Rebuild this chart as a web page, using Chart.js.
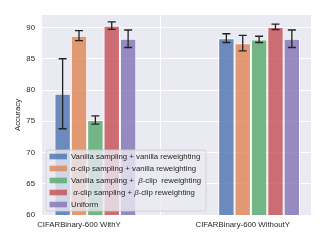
<!DOCTYPE html>
<html>
<head>
<meta charset="utf-8">
<script src="https://cdn.jsdelivr.net/npm/chart.js@4/dist/chart.umd.min.js"></script>
<style>
  html, body { margin: 0; padding: 0; background: #fff; }
  #wrap { width: 327px; height: 245px; }
</style>
</head>
<body>
<div id="wrap"><canvas id="accChart"></canvas></div>
<script>
var groups = ['CIFARBinary-600 WithY', 'CIFARBinary-600 WithoutY'];
var seriesNames = [
  'Vanilla sampling + vanilla reweighting',
  '\u03b1-clip sampling + vanilla reweighting',
  'Vanilla sampling +  \u03b2-clip  reweighting',
  ' \u03b1-clip sampling + \u03b2-clip reweighting',
  'Uniform'
];
var vanillaVanilla = [79.4, 88.3];
var alphaVanilla = [88.7, 87.5];
var vanillaBeta = [75.2, 88.1];
var alphaBeta = [90.3, 90.1];
var uniform = [88.2, 88.2];
var vanillaVanillaErr = [5.6, 0.7];
var alphaVanillaErr = [0.8, 1.25];
var vanillaBetaErr = [0.65, 0.5];
var alphaBetaErr = [0.6, 0.45];
var uniformErr = [1.4, 1.4];
var yTicks = [60, 65, 70, 75, 80, 85, 90];

var colors = ['76,114,176', '221,132,82', '85,168,104', '196,78,82', '129,114,179'];
var values = [vanillaVanilla, alphaVanilla, vanillaBeta, alphaBeta, uniform];
var errors = [vanillaVanillaErr, alphaVanillaErr, vanillaBetaErr, alphaBetaErr, uniformErr];

// bars are drawn with the group shifted right of its tick (tick sits on 2nd bar)
var groupShift = 0.1;
var font = 'Liberation Sans, Arial, sans-serif';

var datasets = values.map(function(vals, k) {
  return {
    label: seriesNames[k],
    data: vals.map(function(v, i) { return { x: i + groupShift, y: v }; }),
    err: errors[k],
    backgroundColor: 'rgba(' + colors[k] + ',0.8)',
    borderColor: '#ffffff',
    borderWidth: 1,
    borderSkipped: false,
    categoryPercentage: 0.5,
    barPercentage: 1.0
  };
});

// axes background colour
var plotBg = {
  id: 'plotBg',
  beforeDraw: function(chart) {
    var a = chart.chartArea;
    chart.ctx.save();
    chart.ctx.fillStyle = '#eaeaf2';
    chart.ctx.fillRect(a.left, a.top, a.right - a.left, a.bottom - a.top);
    chart.ctx.restore();
  }
};

var errorBars = {
  id: 'errorBars',
  afterDatasetsDraw: function(chart) {
    var ctx = chart.ctx;
    var ys = chart.scales.y;
    ctx.save();
    ctx.strokeStyle = '#222';
    ctx.lineWidth = 1.3;
    chart.data.datasets.forEach(function(ds, k) {
      chart.getDatasetMeta(k).data.forEach(function(bar, i) {
        var v = ds.data[i].y, e = ds.err[i];
        var top = ys.getPixelForValue(v + e), bot = ys.getPixelForValue(v - e);
        ctx.beginPath();
        ctx.moveTo(bar.x, top); ctx.lineTo(bar.x, bot);
        ctx.moveTo(bar.x - 4, top); ctx.lineTo(bar.x + 4, top);
        ctx.moveTo(bar.x - 4, bot); ctx.lineTo(bar.x + 4, bot);
        ctx.stroke();
      });
    });
    ctx.restore();
  }
};

// draw text where greek letters are italic
function drawMixed(ctx, str, x, y, size) {
  var parts = str.split(/([\u03b1\u03b2])/);
  parts.forEach(function(p) {
    if (!p) return;
    var greek = /[\u03b1\u03b2]/.test(p);
    ctx.font = (greek ? 'italic ' : '') + size + 'px ' + font;
    ctx.fillText(p, x, y);
    x += ctx.measureText(p).width;
  });
}

var boxLegend = {
  id: 'boxLegend',
  afterDraw: function(chart) {
    var ctx = chart.ctx;
    var a = chart.chartArea;
    var x0 = a.left + 4, y0 = 150, w = 160, h = 61;
    ctx.save();
    ctx.fillStyle = 'rgba(234,234,242,0.8)';
    ctx.strokeStyle = '#cccccc';
    ctx.lineWidth = 0.8;
    ctx.beginPath();
    ctx.roundRect(x0, y0, w, h, 2);
    ctx.fill();
    ctx.stroke();
    ctx.textBaseline = 'middle';
    chart.data.datasets.forEach(function(ds, k) {
      var cy = y0 + 6.5 + k * 12;
      ctx.fillStyle = ds.backgroundColor;
      ctx.fillRect(x0 + 3.5, cy - 2.8, 17.5, 5.6);
      ctx.fillStyle = '#262626';
      drawMixed(ctx, ds.label, x0 + 25, cy, 7.8);
    });
    ctx.restore();
  }
};

new Chart(document.getElementById('accChart'), {
  type: 'bar',
  data: { datasets: datasets },
  plugins: [plotBg, errorBars, boxLegend],
  options: {
    responsive: true,
    maintainAspectRatio: false,
    animation: false,
    layout: { padding: { left: 13, right: 16, top: 15, bottom: 0 } },
    plugins: { legend: { display: false }, tooltip: { enabled: false } },
    scales: {
      x: {
        type: 'linear',
        min: -0.226,
        max: 1.417,
        offset: false,
        afterBuildTicks: function(s) { s.ticks = groups.map(function(g, i) { return { value: i }; }); },
        afterFit: function(s) { s.height = 30; },
        ticks: {
          autoSkip: false,
          maxRotation: 0,
          padding: 5,
          color: '#262626',
          font: { family: font, size: 7.8 },
          callback: function(v) { return groups[v]; }
        },
        grid: { color: '#ffffff', lineWidth: 1, drawTicks: false },
        border: { display: false }
      },
      y: {
        min: 60,
        max: 92,
        afterBuildTicks: function(s) { s.ticks = yTicks.map(function(v) { return { value: v }; }); },
        afterFit: function(s) { s.width = 29; },
        ticks: {
          padding: 7,
          color: '#262626',
          font: { family: font, size: 7.8 }
        },
        grid: { color: '#ffffff', lineWidth: 1, drawTicks: false },
        border: { display: false },
        title: {
          display: true,
          text: 'Accuracy',
          color: '#262626',
          padding: { top: 0, bottom: 0 },
          font: { family: font, size: 7.8 }
        }
      }
    }
  }
});
</script>
</body>
</html>
